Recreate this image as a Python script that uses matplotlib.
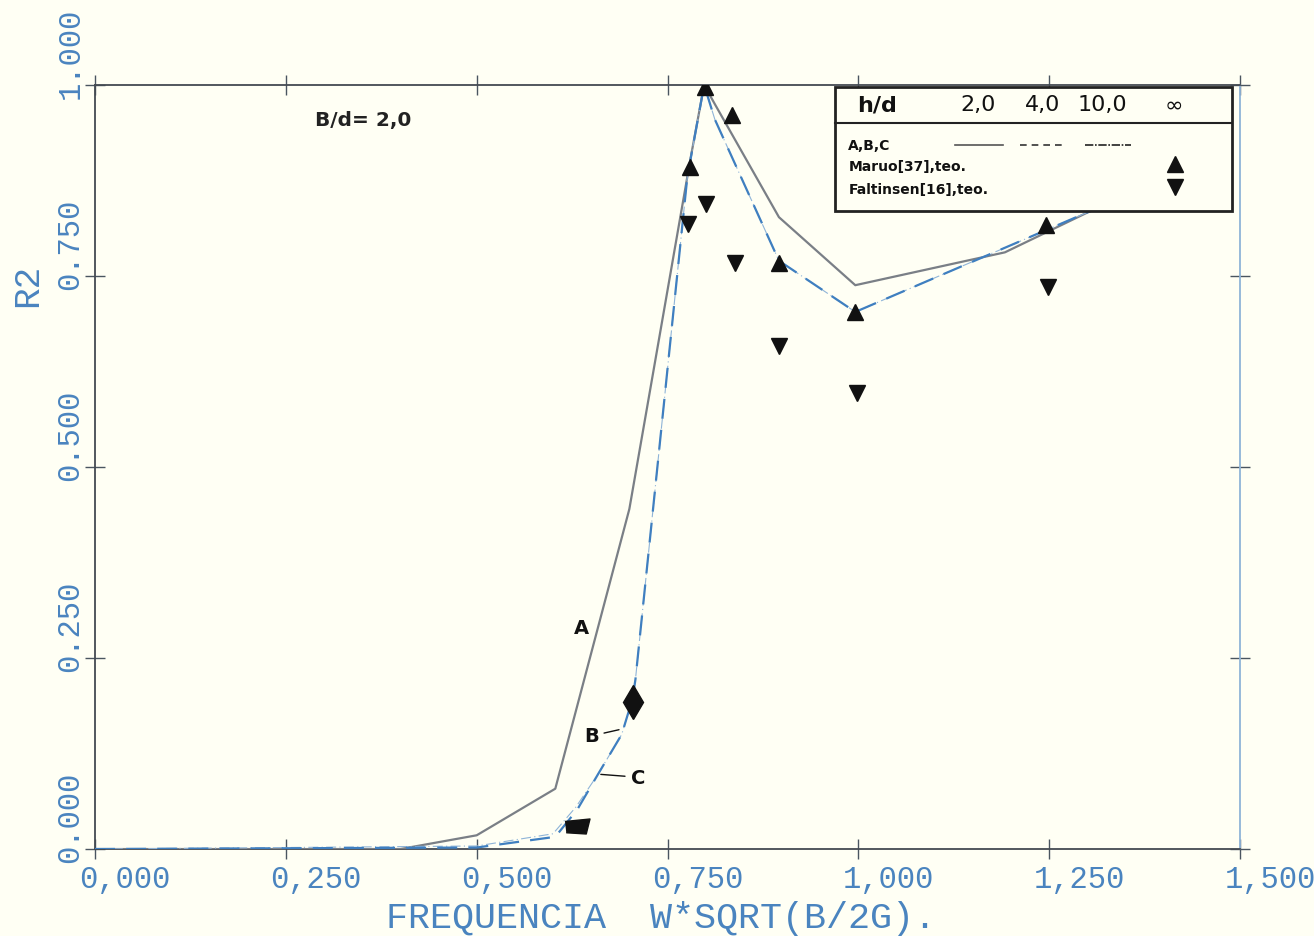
import matplotlib.pyplot as plt
from matplotlib.patches import Rectangle
from matplotlib.lines import Line2D
from matplotlib.transforms import ScaledTranslation

# Curva A (h/d = 2,0)
freq_a = [0.0, 0.40, 0.50, 0.603, 0.70, 0.78, 0.798, 0.812, 0.896, 0.996, 1.192, 1.304]
r2_a = [0.0, 0.0, 0.018, 0.079, 0.445, 0.903, 1.0, 0.975, 0.827, 0.738, 0.781, 0.835]

# Curva B (h/d = 4,0)
freq_b = [0.0, 0.50, 0.603, 0.632, 0.659, 0.690, 0.704, 0.708, 0.776, 0.798, 0.812, 0.896, 0.996, 1.304]
r2_b = [0.0, 0.002, 0.016, 0.052, 0.098, 0.150, 0.196, 0.222, 0.880, 1.0, 0.955, 0.770, 0.703, 0.835]

# Curva C (h/d = 10,0)
freq_c = [0.0, 0.50, 0.600, 0.630, 0.659, 0.690, 0.704, 0.708, 0.776, 0.798, 0.812, 0.896, 0.996, 1.304]
r2_c = [0.0, 0.004, 0.020, 0.055, 0.098, 0.150, 0.196, 0.222, 0.880, 1.0, 0.955, 0.770, 0.703, 0.835]

# Maruo [37], teo.
freq_maruo = [0.780, 0.799, 0.835, 0.896, 0.996, 1.246]
r2_maruo = [0.893, 0.997, 0.961, 0.767, 0.703, 0.817]

# Faltinsen [16], teo.
freq_falt = [0.777, 0.801, 0.839, 0.896, 0.998, 1.249]
r2_falt = [0.818, 0.844, 0.767, 0.658, 0.597, 0.736]

x_ticks = [0.0, 0.25, 0.5, 0.75, 1.0, 1.25, 1.5]
x_labels = ["0,000", "0,250", "0,500", "0,750", "1,000", "1,250", "1,500"]
y_ticks = [0.0, 0.25, 0.5, 0.75, 1.0]
y_labels = ["0.000", "0.250", "0.500", "0.750", "1.000"]

blue = "#4a84bf"
paper = "#fffff4"
mono = "Liberation Mono"

fig = plt.figure(figsize=(13.14, 9.37), dpi=100, facecolor=paper)
ax = fig.add_axes([0.0723, 0.0928, 0.8714, 0.8154], facecolor=paper)

ax.plot(freq_a, r2_a, color="#7a7f86", lw=1.6, zorder=3)
ax.plot(freq_c, r2_c, color="#8fb4d8", lw=0.8, ls=(0, (9, 3, 1, 3)), zorder=3)
ax.plot(freq_b, r2_b, color="#3f7fc0", lw=1.6, ls=(0, (9, 5)), zorder=3)

ax.plot(freq_maruo, r2_maruo, ls="none", marker="^", ms=11, color="#111111", zorder=4)
ax.plot(freq_falt, r2_falt, ls="none", marker="v", ms=11, color="#111111", zorder=4)

# marcas no início das curvas B e C
ax.plot([0.705], [0.192], ls="none", marker="d", ms=17, color="#111111", zorder=4)
flag = [(-1.0, 0.4), (1.0, 0.6), (0.7, -0.6), (-0.9, -0.5)]
ax.plot([0.632], [0.030], ls="none", marker=flag, ms=18, color="#111111", zorder=4)

ax.set_xlim(0, 1.5)
ax.set_ylim(0, 1.0)

# identificação das curvas
lab = dict(fontsize=14, fontweight="bold", color="#111111", family="DejaVu Sans")
ax.text(0.637, 0.29, "A", ha="center", va="center", **lab)
ax.annotate("B", xy=(0.690, 0.157), xytext=(0.650, 0.148), ha="center", va="center",
            arrowprops=dict(arrowstyle="-", color="#111111", lw=1.0), **lab)
ax.annotate("C", xy=(0.659, 0.098), xytext=(0.711, 0.094), ha="center", va="center",
            arrowprops=dict(arrowstyle="-", color="#111111", lw=1.0), **lab)

ax.text(0.351, 0.955, "B/d= 2,0", ha="center", va="center", fontsize=14.5,
        fontweight="bold", color="#222222")

# quadro da legenda
leg = dict(transform=ax.transAxes, color="#111111", va="center", zorder=6)
ax.add_patch(Rectangle((0.646, 0.835), 0.347, 0.162, transform=ax.transAxes,
                       facecolor=paper, edgecolor="#222222", lw=2.0, zorder=5))
ax.add_line(Line2D([0.646, 0.993], [0.950, 0.950], transform=ax.transAxes,
                   color="#222222", lw=1.5, zorder=6))
ax.text(0.683, 0.975, "h/d", fontsize=16, ha="center", fontweight="bold", **leg)
for xt, txt in [(0.771, "2,0"), (0.828, "4,0"), (0.880, "10,0"), (0.942, "\u221e")]:
    ax.text(xt, 0.975, txt, fontsize=16, ha="center", **leg)
ax.text(0.658, 0.922, "A,B,C", fontsize=10, ha="left", fontweight="heavy", **leg)
ax.text(0.658, 0.894, "Maruo[37],teo.", fontsize=10, ha="left", fontweight="heavy", **leg)
ax.text(0.658, 0.864, "Faltinsen[16],teo.", fontsize=10, ha="left", fontweight="heavy", **leg)
ax.add_line(Line2D([0.751, 0.793], [0.922, 0.922], transform=ax.transAxes,
                   color="#555555", lw=1.2, zorder=6))
ax.add_line(Line2D([0.808, 0.847], [0.922, 0.922], transform=ax.transAxes,
                   color="#333333", lw=1.2, ls=(0, (4, 3)), zorder=6))
ax.add_line(Line2D([0.865, 0.905], [0.922, 0.922], transform=ax.transAxes,
                   color="#222222", lw=1.2, ls=(0, (5, 1, 1, 1)), zorder=6))
ax.plot([0.943], [0.896], transform=ax.transAxes, marker="^", ms=11, color="#111111", zorder=6)
ax.plot([0.943], [0.866], transform=ax.transAxes, marker="v", ms=11, color="#111111", zorder=6)

# eixos no estilo do traçador
for side in ["left", "bottom", "top"]:
    ax.spines[side].set_color("#444a52")
    ax.spines[side].set_linewidth(1.3)
ax.spines["right"].set_color("#8fb4d8")
ax.spines["right"].set_linewidth(1.3)

ax.set_xticks(x_ticks)
ax.set_xticklabels(x_labels)
ax.set_yticks(y_ticks)
ax.set_yticklabels(y_labels, rotation=90, va="bottom")
ax.tick_params(axis="both", direction="inout", length=14, width=1.0, color="#4a5560",
               top=True, right=True, labelcolor=blue, labelsize=22)
ax.tick_params(axis="x", pad=4)
ax.tick_params(axis="y", pad=0)
for t in ax.get_xticklabels() + ax.get_yticklabels():
    t.set_family(mono)
for t in ax.get_xticklabels():
    t.set_transform(t.get_transform() + ScaledTranslation(0.30, 0, fig.dpi_scale_trans))
for t in ax.get_yticklabels():
    t.set_transform(t.get_transform() + ScaledTranslation(0.0, -0.13, fig.dpi_scale_trans))

fig.text(0.503, 0.020, "FREQUENCIA  W*SQRT(B/2G).", ha="center", va="center",
         fontsize=26.5, color=blue, family=mono)
fig.text(0.021, 0.695, "R2", ha="center", va="center", rotation=90,
         fontsize=26, color=blue, family=mono)

fig.savefig("out.png", dpi=100, facecolor=paper)
